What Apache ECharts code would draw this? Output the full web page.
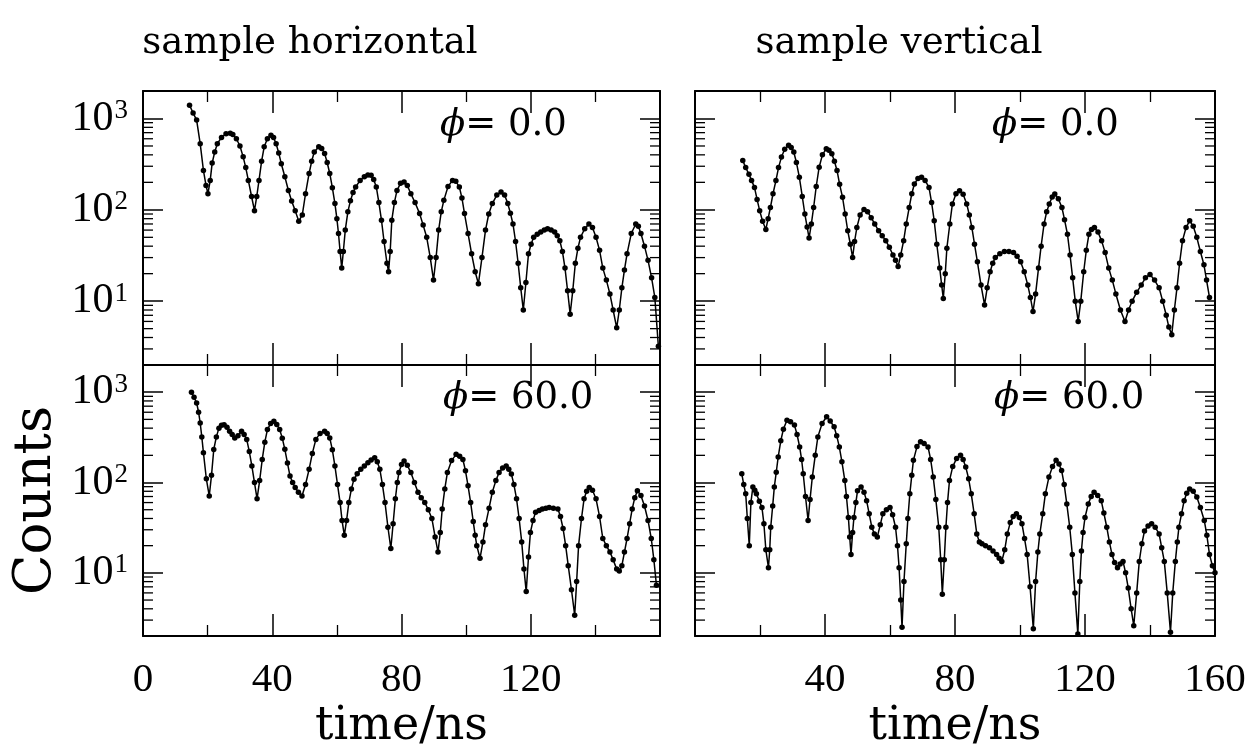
<!DOCTYPE html>
<html><head><meta charset="utf-8">
<script src="https://cdn.jsdelivr.net/npm/echarts@6/dist/echarts.min.js"></script>
<style>html,body{margin:0;padding:0;background:#fff}#c{width:1250px;height:751px}</style>
</head><body><div id="c"></div>
<script>
// ---- data: sample horizontal, phi = 0.0
const timeH0 = [14.4,15.5,16.6,17.7,18.7,19.5,20.1,20.8,21.4,22.2,23.0,24.3,25.7,27.0,27.8,28.9,30.0,31.0,31.8,32.6,33.6,34.5,35.2,35.9,36.7,37.5,38.5,39.6,40.4,41.2,42.0,42.8,43.9,45.0,46.0,47.1,48.2,49.3,50.3,51.4,52.2,53.0,54.4,55.3,56.2,57.0,57.8,58.6,59.4,60.0,60.5,61.0,61.5,62.0,62.6,63.4,64.2,65.0,65.8,67.2,68.5,69.6,70.6,71.4,72.2,73.0,73.8,74.6,75.5,76.0,76.5,77.0,77.8,78.6,79.7,80.8,81.8,82.9,84.2,85.6,86.7,87.8,88.9,89.9,90.7,91.5,92.3,93.1,94.4,95.8,96.8,97.9,98.7,99.5,100.6,101.7,102.8,103.8,104.9,106.0,107.0,108.1,109.5,110.8,111.9,112.9,113.7,114.5,115.3,116.1,116.9,117.7,118.5,119.3,120.1,120.9,122.0,123.1,124.2,125.2,126.3,127.4,128.2,129.0,129.8,130.6,131.4,132.2,133.0,133.8,134.6,135.4,136.7,138.0,139.1,140.2,141.3,142.3,143.4,144.5,145.5,146.6,147.4,148.2,149.0,149.8,151.1,152.5,153.3,154.1,155.2,156.3,157.4,158.4,159.5];
const countsH0 = [1400,1150,960,530,270,185,150,210,325,430,530,620,680,690,670,600,500,380,290,210,140,98,140,210,340,490,600,655,620,530,420,320,230,163,125,98,75,88,150,250,340,430,490,470,415,330,250,175,117,80,55,35,23,35,60,95,126,155,178,210,230,240,239,215,178,120,77,45,26,21,35,77,120,163,195,202,185,150,120,91,68,50,30,17,30,60,95,127,180,210,205,178,135,91,55,33,21,15.5,30,60,90,117,145,157,145,117,92,70,45,26,14,8,16,33,42,50,54,57,60,62,60,57,52,46,35,23,13,7.2,13,26,38,50,62,70,64,50,36,23,17,12,8,5.1,8,14,22,33,55,70,66,55,40,28,18,11,3.2];

// ---- data: sample horizontal, phi = 60.0
const timeH60 = [15.0,15.8,16.6,17.2,17.7,18.2,18.7,19.6,20.5,21.2,21.9,22.7,23.5,24.3,25.1,26.0,26.8,27.6,28.4,29.4,30.5,31.3,32.1,32.9,33.7,34.5,35.3,36.1,36.9,37.7,38.5,39.5,40.5,41.4,42.3,43.1,43.9,44.7,45.5,46.3,47.1,48.1,49.2,50.3,51.4,52.4,53.5,54.8,56.2,57.0,57.8,58.6,59.4,60.2,61.0,61.6,62.3,63.0,63.7,64.5,65.3,66.3,67.4,68.5,69.6,70.6,71.7,72.5,73.3,74.1,74.9,75.8,76.7,77.4,78.1,78.7,79.2,80.0,80.8,81.8,82.9,84.0,85.1,86.1,87.2,88.3,89.4,90.4,91.3,92.0,92.6,93.4,94.2,95.5,96.9,98.0,99.0,99.8,100.6,101.4,102.2,102.8,103.3,104.3,105.2,106.0,107.1,108.1,109.2,110.2,111.3,112.4,113.2,114.0,114.8,115.6,116.4,117.2,117.9,118.6,119.3,119.9,120.7,121.5,122.6,123.6,124.7,125.7,127.0,128.4,129.2,130.0,130.8,131.6,132.6,133.6,134.2,134.8,135.7,136.5,137.3,138.1,139.1,140.2,141.3,142.3,143.4,144.5,145.5,146.6,147.4,148.2,149.0,149.8,150.6,151.4,152.2,153.0,154.1,155.2,156.3,157.3,158.1,158.9];
const countsH60 = [1000,880,760,600,456,320,214,110,71,120,232,320,400,430,437,410,370,340,312,330,370,340,300,220,152,100,66,105,180,280,386,450,476,440,386,310,233,165,118,100,88,78,71,95,140,210,300,350,370,350,312,230,152,95,60,38,26,38,60,85,109,125,140,152,166,178,188,170,140,95,60,32,18.6,35,66,100,129,158,173,155,129,100,78,68,60,50,40,25,17,28,51,85,129,175,205,195,180,135,92,60,37,26,20,14.5,22,34,52,78,105,129,145,152,140,124,95,66,40,22,11,6.2,15,28,38,47,49,51,52,53,52,51,42,31,20,12,6.5,3.4,8,20,40,66,80,88,82,66,42,24,20,17,14,11,10.5,12,17,24,35,51,68,81,72,55,38,24,14,7.3];

// ---- data: sample vertical, phi = 0.0
const timeV0 = [14.7,15.6,16.6,17.4,18.3,19.1,19.9,20.8,21.8,22.5,23.2,24.0,24.9,25.7,26.6,27.6,28.8,29.6,30.4,31.2,32.1,33.0,33.8,34.5,35.1,35.8,36.5,37.3,38.2,39.2,40.4,41.2,42.1,42.9,43.7,44.5,45.4,46.2,47.0,47.8,48.5,49.1,49.8,50.8,52.0,53.1,54.2,55.3,56.5,57.6,58.7,59.8,60.9,61.7,62.5,63.3,64.2,65.0,65.9,66.7,67.5,68.6,69.7,70.8,72.0,72.8,73.6,74.4,75.3,75.9,76.4,77.0,77.5,78.4,79.2,80.3,81.4,82.5,83.6,84.4,85.2,86.0,86.9,88.0,89.1,89.9,90.8,91.6,92.4,93.8,95.2,96.6,98.0,99.1,100.2,101.3,102.4,103.2,104.0,104.8,105.7,106.5,107.4,108.2,109.0,109.9,110.7,111.8,112.9,113.7,114.6,115.4,116.2,117.0,117.9,118.7,119.6,120.4,121.2,122.0,122.9,124.0,125.1,126.2,127.3,128.4,129.5,130.9,132.3,133.4,134.5,135.9,137.3,138.6,140.0,141.4,142.8,143.9,145.0,145.8,146.7,147.5,148.3,149.1,150.0,151.1,152.2,153.3,154.4,155.5,156.6,157.4,158.3];
const countsV0 = [347,290,245,210,176,130,98,75,61,80,106,150,209,290,378,460,508,480,430,330,228,140,90,65,49,70,106,180,293,400,467,450,410,340,270,190,137,90,59,42,30,45,64,88,101,95,82,70,59,52,46,39,32,28,24,32,46,70,106,150,192,220,228,210,176,120,76,42,23,15,10.7,20,38,70,116,150,162,148,116,88,64,42,27,15,9.1,14,21,26,30,33,35,35,34,31,27,21,15,11,7.7,12,23,40,70,95,116,138,149,132,106,78,54,32,18,10,6,10,21,36,54,61,64,57,46,34,23,17,12,8,6,8,10,12.5,15,18,19.6,17,14,10,7,5.2,4.3,8,14,26,46,64,76,66,50,35,25,17,11];

// ---- data: sample vertical, phi = 60.0
const timeV60 = [14.4,15.0,15.6,16.1,16.7,17.2,17.8,18.4,18.9,19.8,20.6,21.2,21.8,22.6,23.0,23.3,23.9,24.4,25.0,25.6,26.4,27.2,28.3,29.4,30.6,31.4,32.2,32.8,33.3,34.0,34.8,35.4,36.1,37.0,37.8,39.1,40.5,41.6,42.8,43.6,44.4,45.2,46.1,46.6,47.2,47.6,48.0,48.5,48.9,49.5,50.0,51.1,52.0,52.8,53.6,54.4,55.2,56.1,57.0,57.8,58.9,60.0,60.8,61.7,62.3,62.8,63.3,63.7,64.3,65.0,65.5,66.1,66.7,67.2,68.3,69.4,70.5,71.7,72.5,73.3,74.1,75.0,75.6,76.1,76.7,77.2,77.7,78.3,79.3,80.5,81.7,82.5,83.3,84.2,85.0,85.9,86.7,87.5,88.3,89.4,90.6,91.7,92.8,93.6,94.4,95.3,96.1,97.0,97.9,98.9,99.8,100.6,101.4,102.2,103.1,104.1,104.8,105.5,106.1,107.0,107.8,108.9,110.0,111.1,112.0,112.8,113.6,114.4,115.3,116.1,116.9,117.8,118.4,118.9,119.4,120.0,121.0,121.9,122.8,123.9,125.0,125.8,126.7,127.5,128.3,129.1,130.0,130.8,131.7,132.5,133.3,134.2,135.0,135.9,136.7,137.5,138.3,139.4,140.5,141.6,142.8,143.6,144.4,145.3,146.3,147.0,147.8,148.4,148.9,149.7,150.5,151.3,152.2,153.3,154.4,155.5,156.7,157.5,158.3,159.2,160.0];
const countsV60 = [125,95,75,40,20,60,89,82,75,62,53,35,18,11.4,18,32,55,89,130,192,290,390,490,470,432,340,248,180,125,70,38,65,115,200,320,450,535,480,414,330,248,170,105,70,41,25,16,28,41,60,81,89,78,63,45,32,27,25,34,45,50,53,44,32,20,11.4,5,2.5,8,21,40,75,120,176,250,282,270,248,180,115,65,32,14,5.8,14,32,60,105,150,185,200,180,149,110,75,45,27,22,21,20,19,17.5,16,14.5,13.4,18,27,36,42,45,41,35,24,16,7,2.4,8,17,27,45,75,115,150,176,160,136,95,58,32,16,6,2.1,8,17.5,28,41,58,70,78,72,63,46,32,22,16,13,11.4,12.5,13.4,10,6.8,4,2.6,6,13.4,21,29,33,35,32,27,19,13.4,6,2.2,6,13.4,22,32,45,63,76,85,80,69,53,38,26,16,12,10];

// ---- axis tick values / labels
const xLabelsLeft = [0, 40, 80, 120];
const xLabelsRight = [40, 80, 120, 160];
const yMinorTicks = [3,4,5,6,7,8,9,20,30,40,50,60,70,80,90,200,300,400,500,600,700,800,900];
const panelTexts = ['= 0.0', '= 60.0', '= 0.0', '= 60.0'];

const panels = [
  {t: timeH0, c: countsH0, grid: {left:143, top:91, width:517, height:274}, bottomRow:false, leftCol:true},
  {t: timeH60, c: countsH60, grid: {left:143, top:365, width:517, height:272}, bottomRow:true, leftCol:true},
  {t: timeV0, c: countsV0, grid: {left:695, top:91, width:520, height:274}, bottomRow:false, leftCol:false},
  {t: timeV60, c: countsV60, grid: {left:695, top:365, width:520, height:272}, bottomRow:true, leftCol:false}
];

const serif = 'Liberation Serif';
const serif2 = 'DejaVu Serif';
const black = '#000';

const grid = [], xAxis = [], yAxis = [], series = [];
panels.forEach((p, i) => {
  grid.push(Object.assign({containLabel:false}, p.grid));
  const labs = p.leftCol ? xLabelsLeft : xLabelsRight;
  const xBase = {
    gridIndex: i, type: 'value', min: 0, max: 160, interval: 40,
    axisLine: {show: true, onZero: false, lineStyle: {color: black, width: 2}},
    axisTick: {show: true, inside: true, length: 22, lineStyle: {color: black, width: 1.5}},
    minorTick: {show: true, splitNumber: 2, length: 11, lineStyle: {color: black, width: 1.3}},
    splitLine: {show: false}, minorSplitLine: {show: false}
  };
  xAxis.push(Object.assign({}, xBase, {
    position: 'bottom',
    axisLabel: {show: p.bottomRow, margin: 24, color: black, fontFamily: serif, fontSize: 41,
      formatter: v => labs.indexOf(Math.round(v)) >= 0 ? String(Math.round(v)) : ''},
    name: p.bottomRow ? 'time/ns' : '', nameLocation: 'middle', nameGap: 68,
    nameTextStyle: {fontFamily: serif2, fontSize: 46, color: black}
  }));
  xAxis.push(Object.assign({}, xBase, {position: 'top', axisLabel: {show: false}}));
  const yBase = {
    gridIndex: i, type: 'log', logBase: 10, min: 2, max: 2000,
    axisLine: {show: true, onZero: false, lineStyle: {color: black, width: 2}},
    axisTick: {show: true, inside: true, length: 20, lineStyle: {color: black, width: 1.5}},
    splitLine: {show: false}
  };
  yAxis.push(Object.assign({}, yBase, {
    position: 'left',
    axisLabel: {show: p.leftCol, margin: 15, color: black,
      formatter: v => {
        const e = Math.log10(v);
        if (Math.abs(e - Math.round(e)) < 1e-6) return '{b|10}{s|' + Math.round(e) + '}';
        return '';
      },
      rich: {
        b: {fontFamily: serif, fontSize: 42, color: black, lineHeight: 42, verticalAlign: 'bottom', padding: [14, 0, 0, 0]},
        s: {fontFamily: serif, fontSize: 27, color: black, lineHeight: 27, verticalAlign: 'top', padding: [0, 0, 0, 1]}
      }},
    name: (p.leftCol && p.bottomRow) ? 'Counts' : '', nameLocation: 'middle', nameGap: 80,
    nameTextStyle: {fontFamily: serif2, fontSize: 53, color: black}
  }));
  yAxis.push(Object.assign({}, yBase, {position: 'right', axisLabel: {show: false}}));

  series.push({
    type: 'line', xAxisIndex: 2 * i, yAxisIndex: 2 * i,
    data: p.t.map((x, k) => [x, p.c[k]]),
    symbol: 'circle', symbolSize: 5.5, showSymbol: true,
    lineStyle: {color: black, width: 1.5}, itemStyle: {color: black},
    z: 5, animation: false, silent: true
  });
  series.push({
    type: 'custom', xAxisIndex: 2 * i, yAxisIndex: 2 * i,
    data: yMinorTicks.map(v => [0, v]), silent: true, z: 4, animation: false,
    renderItem: (params, api) => {
      const v = api.value(1);
      const a = api.coord([0, v]);
      const b = api.coord([160, v]);
      const st = {stroke: black, lineWidth: 1.3};
      return {type: 'group', children: [
        {type: 'line', shape: {x1: a[0], y1: a[1], x2: a[0] + 10, y2: a[1]}, style: st},
        {type: 'line', shape: {x1: b[0], y1: b[1], x2: b[0] - 10, y2: b[1]}, style: st}
      ]};
    }
  });
});

const phiPos = [[440, 125], [443, 398], [992, 125], [994, 398]];
const graphic = [
  {type: 'text', x: 310, y: 43, style: {text: 'sample horizontal', fontFamily: serif2, fontSize: 37, fill: black, textAlign: 'center', textVerticalAlign: 'middle'}},
  {type: 'text', x: 899, y: 43, style: {text: 'sample vertical', fontFamily: serif2, fontSize: 37, fill: black, textAlign: 'center', textVerticalAlign: 'middle'}}
];
panelTexts.forEach((s, i) => {
  graphic.push({type: 'text', x: phiPos[i][0], y: phiPos[i][1], z: 10,
    style: {text: '{i|\u03d5}' + s, fontFamily: serif2, fontSize: 37, fill: black,
      textAlign: 'left', textVerticalAlign: 'middle',
      rich: {i: {fontFamily: serif2, fontSize: 37, fontStyle: 'italic', fill: black}}}});
});

const chart = echarts.init(document.getElementById('c'), null, {renderer: 'canvas'});
chart.setOption({backgroundColor: '#fff', animation: false, grid, xAxis, yAxis, series, graphic});
</script>
</body></html>
